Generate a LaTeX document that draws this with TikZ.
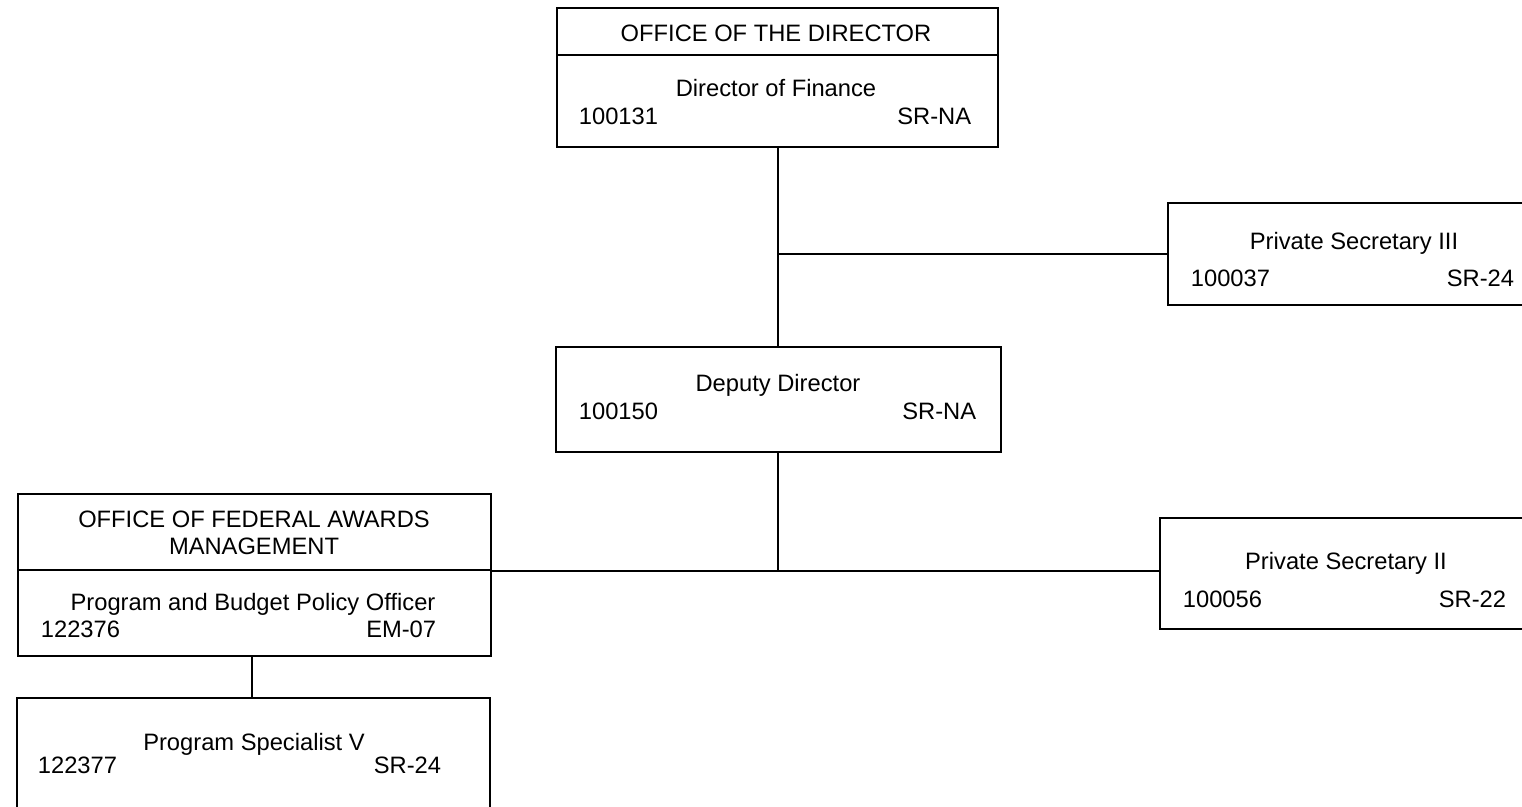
\documentclass[tikz,border=0pt]{standalone}
\usepackage{fontspec}
\setmainfont{Liberation Sans}
\usepackage{tikz}
\tikzstyle{posto}=[rectangle, draw=black, fill=white, inner sep=0pt]
\tikzstyle{texto}=[inner sep=0pt, font=\fontsize{13.5}{16}\selectfont]

\begin{document}
\begin{tikzpicture}[x=0.02cm, y=-0.02cm, line width=1pt]
			\useasboundingbox (0,0) rectangle (1522,807);
			\clip (0,0) rectangle (1522,807);
			\node[posto, minimum width=8.82cm, minimum height=2.78cm] (dir) at (777.5,77.5) {};
			\node[posto, minimum width=7.44cm, minimum height=2.04cm] (sec3) at (1354,254) {};
			\node[posto, minimum width=8.9cm, minimum height=2.1cm] (dep) at (778.5,399.5) {};
			\node[posto, minimum width=9.46cm, minimum height=3.24cm] (fed) at (254.5,575) {};
			\node[posto, minimum width=7.44cm, minimum height=2.22cm] (sec2) at (1346,573.5) {};
			\node[posto, minimum width=9.46cm, minimum height=2.64cm] (spec) at (253.5,764) {};
			\coordinate (j1) at (778,254);
			\coordinate (j2) at (778,571);
			\path[draw=black]
				(dir.north west |- 0,55)--(dir.north east |- 0,55)
				(fed.north west |- 0,570)--(fed.north east |- 0,570);
			\path[draw=black]
				(dir.south -| j1)--(dep.north -| j1)(j1)--(sec3.west |- j1)
				(dep.south -| j2)--(j2)(j2 -| fed.east)--(j2 -| sec2.west)
				(fed.south -| 252,0)--(spec.north -| 252,0);
			% office of the director
			\node[texto, anchor=base] (t1) at (776,42) {OFFICE OF THE DIRECTOR};
			\node[texto, anchor=base] (t2) at (776,97) {Director of Finance};
			\node[texto, anchor=base west] (t3) at (578,125) {100131};
			\node[texto, anchor=base east] (t4) at (972,125) {SR-NA};
			% private secretary iii
			\node[texto, anchor=base] (t5) at (1354,250) {Private Secretary III};
			\node[texto, anchor=base west] (t6) at (1190,287) {100037};
			\node[texto, anchor=base east] (t7) at (1515,287) {SR-24};
			% deputy director
			\node[texto, anchor=base] (t8) at (778,392) {Deputy Director};
			\node[texto, anchor=base west] (t9) at (578,420) {100150};
			\node[texto, anchor=base east] (t10) at (977,420) {SR-NA};
			% federal awards
			\node[texto, anchor=base] (t11) at (254,527) {OFFICE OF FEDERAL AWARDS};
			\node[texto, anchor=base] (t12) at (254,555) {MANAGEMENT};
			\node[texto, anchor=base] (t13) at (253,610) {Program and Budget Policy Officer};
			\node[texto, anchor=base west] (t14) at (40,637) {122376};
			\node[texto, anchor=base east] (t15) at (437,637) {EM-07};
			% private secretary ii
			\node[texto, anchor=base] (t16) at (1346,569) {Private Secretary II};
			\node[texto, anchor=base west] (t17) at (1182,607) {100056};
			\node[texto, anchor=base east] (t18) at (1507,607) {SR-22};
			% program specialist
			\node[texto, anchor=base] (t19) at (254,750) {Program Specialist V};
			\node[texto, anchor=base west] (t20) at (37,773) {122377};
			\node[texto, anchor=base east] (t21) at (442,773) {SR-24};
		\end{tikzpicture}
\end{document}
